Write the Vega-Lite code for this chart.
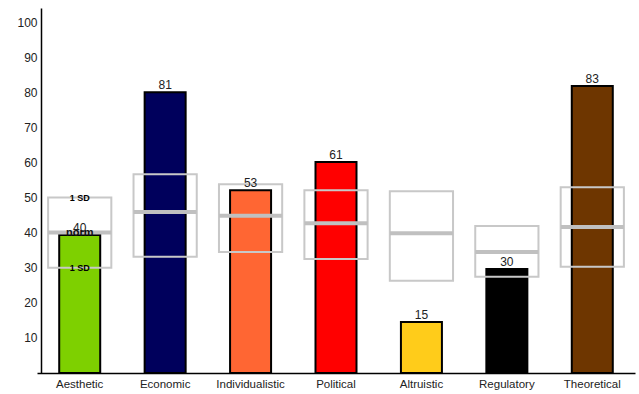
{
  "$schema": "https://vega.github.io/schema/vega-lite/v6.json",
  "width": 598,
  "height": 365,
  "autosize": {"type": "none"},
  "padding": {"left": 37, "top": 8, "right": 4, "bottom": 21},
  "background": "white",
  "config": {"view": {"stroke": null}, "font": "Liberation Sans"},
  "datasets": {
    "main": [
      {"category": "Aesthetic", "score": 40, "bar": 39.3, "norm": 40, "sdTop": 50, "sdBottom": 30, "color": "#7ED000"},
      {"category": "Economic", "score": 81, "bar": 80, "norm": 45.9, "sdTop": 56.6, "sdBottom": 33.1, "color": "#00005C"},
      {"category": "Individualistic", "score": 53, "bar": 52.1, "norm": 44.8, "sdTop": 53.8, "sdBottom": 34.5, "color": "#FF6633"},
      {"category": "Political", "score": 61, "bar": 60.1, "norm": 42.7, "sdTop": 52.1, "sdBottom": 32.5, "color": "#FF0000"},
      {"category": "Altruistic", "score": 15, "bar": 14.5, "norm": 39.8, "sdTop": 51.8, "sdBottom": 26.3, "color": "#FFCC1A"},
      {"category": "Regulatory", "score": 30, "bar": 29.6, "norm": 34.5, "sdTop": 41.9, "sdBottom": 27.4, "color": "#000000"},
      {"category": "Theoretical", "score": 83, "bar": 81.8, "norm": 41.6, "sdTop": 52.9, "sdBottom": 30.3, "color": "#6E3600"}
    ],
    "notes": [
      {"category": "Aesthetic", "pos": 50, "label": "1 SD", "kind": "sd"},
      {"category": "Aesthetic", "pos": 30, "label": "1 SD", "kind": "sd"},
      {"category": "Aesthetic", "pos": 40, "label": "norm", "kind": "norm"}
    ]
  },
  "encoding": {
    "x": {
      "field": "category",
      "type": "nominal",
      "sort": null,
      "scale": {"paddingInner": 0, "paddingOuter": 0},
      "axis": {
        "title": null,
        "labelAngle": 0,
        "ticks": false,
        "labelPadding": 5,
        "labelFontSize": 11.5,
        "labelColor": "#222222",
        "domainColor": "#000000",
        "domainWidth": 1.5
      }
    }
  },
  "layer": [
    {
      "data": {"name": "main"},
      "mark": {"type": "bar", "width": {"band": 0.48}, "stroke": "#000000", "strokeWidth": 2},
      "encoding": {
        "y": {
          "field": "bar",
          "type": "quantitative",
          "scale": {"domain": [0, 104], "nice": false},
          "axis": {
            "title": null,
            "values": [10, 20, 30, 40, 50, 60, 70, 80, 90, 100],
            "ticks": false,
            "grid": false,
            "offset": -4,
            "labelPadding": 4,
            "labelFontSize": 12,
            "labelColor": "#222222",
            "domainColor": "#000000",
            "domainWidth": 1.5
          }
        },
        "fill": {"field": "color", "type": "nominal", "scale": null}
      }
    },
    {
      "data": {"name": "main"},
      "mark": {"type": "bar", "width": {"band": 0.74}, "fill": "white", "fillOpacity": 0, "stroke": "#C8C8C8", "strokeWidth": 2},
      "encoding": {
        "y": {"field": "sdTop", "type": "quantitative"},
        "y2": {"field": "sdBottom"}
      }
    },
    {
      "data": {"name": "main"},
      "mark": {"type": "tick", "size": 63, "thickness": 4, "color": "#C0C0C0", "opacity": 1},
      "encoding": {
        "y": {"field": "norm", "type": "quantitative"}
      }
    },
    {
      "data": {"name": "main"},
      "mark": {"type": "text", "baseline": "alphabetic", "dy": -3, "fontSize": 12, "color": "#222222"},
      "encoding": {
        "y": {"field": "bar", "type": "quantitative"},
        "text": {"field": "score", "type": "quantitative"}
      }
    },
    {
      "data": {"name": "notes"},
      "transform": [{"filter": "datum.kind === 'sd'"}],
      "mark": {"type": "text", "baseline": "middle", "fontSize": 9, "fontWeight": "bold", "color": "#000000"},
      "encoding": {
        "y": {"field": "pos", "type": "quantitative"},
        "text": {"field": "label"}
      }
    },
    {
      "data": {"name": "notes"},
      "transform": [{"filter": "datum.kind === 'norm'"}],
      "mark": {"type": "text", "baseline": "middle", "fontSize": 11, "fontWeight": "bold", "color": "#111111"},
      "encoding": {
        "y": {"field": "pos", "type": "quantitative"},
        "text": {"field": "label"}
      }
    }
  ]
}
